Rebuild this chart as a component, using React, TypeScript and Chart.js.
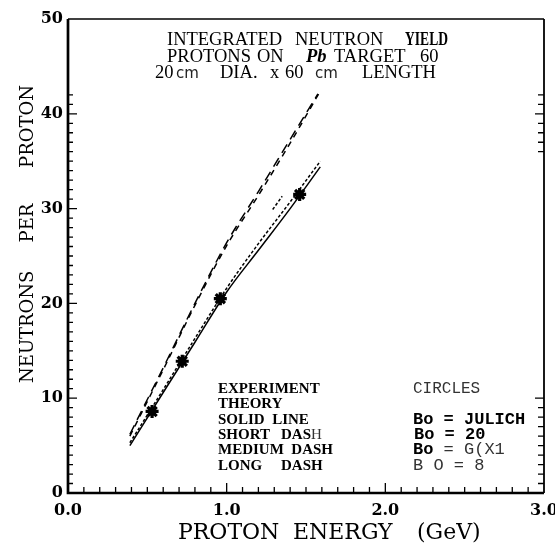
import React, { useEffect, useRef } from 'react';
import { Chart, registerables } from 'chart.js';
Chart.register(...registerables);

// ---- data ----
const theoryEnergy = [0.39, 0.6, 0.8, 1.0, 1.2, 1.4, 1.59];
const solidLine = [5.0, 10.6, 15.9, 21.2, 25.6, 30.0, 34.4];
const shortDash = [5.3, 10.9, 16.3, 21.6, 26.3, 30.7, 35.0];
const mediumDashEnergy = [0.39, 0.6, 0.8, 1.0, 1.2, 1.4, 1.59];
const mediumDash = [6.0, 13.0, 19.8, 26.1, 31.4, 36.9, 42.4];
const longDashEnergy = [0.39, 0.6, 0.8, 1.0, 1.2, 1.4, 1.575];
const longDash = [6.2, 13.2, 20.0, 26.4, 31.8, 37.3, 42.1];
const shortDashFragEnergy = [1.29, 1.35];
const shortDashFrag = [29.9, 31.3];
const expEnergy = [0.53, 0.72, 0.96, 1.46];
const expYield = [8.6, 13.9, 20.5, 31.5];
const xTickLabels = ['0.0', '1.0', '2.0', '3.0'];
const yTickLabels = ['0', '10', '20', '30', '40', '50'];

const pts = (xs: number[], ys: number[]) => xs.map((x, i) => ({ x, y: ys[i] }));

const SERIF = '"DejaVu Serif"';
const TIMES = '"Liberation Serif"';
const MONO = '"Liberation Mono"';

const decorPlugin = {
  id: 'decor',
  afterDatasetsDraw(chart: any) {
    const { ctx, chartArea: a, scales } = chart;
    const xs = scales.x;
    const ys = scales.y;
    ctx.save();
    ctx.strokeStyle = '#000';
    ctx.fillStyle = '#000';
    ctx.lineCap = 'butt';

    // frame
    ctx.lineWidth = 1.5;
    ctx.beginPath();
    ctx.moveTo(a.left, a.top);
    ctx.lineTo(a.right, a.top);
    ctx.stroke();
    ctx.lineWidth = 1.8;
    ctx.beginPath();
    ctx.moveTo(a.right, a.top);
    ctx.lineTo(a.right, a.bottom);
    ctx.stroke();
    ctx.lineWidth = 2.7;
    ctx.beginPath();
    ctx.moveTo(a.left, a.top);
    ctx.lineTo(a.left, a.bottom + 1.3);
    ctx.moveTo(a.left - 1.3, a.bottom);
    ctx.lineTo(a.right, a.bottom);
    ctx.stroke();

    // inward ticks
    ctx.lineWidth = 1.3;
    ctx.beginPath();
    for (let v = 1; v <= 42; v++) {
      const p = ys.getPixelForValue(v);
      const len = v % 10 === 0 ? 9 : 5;
      ctx.moveTo(a.left, p);
      ctx.lineTo(a.left + len, p);
    }
    for (let v = 1; v <= 10; v++) {
      const p = ys.getPixelForValue(v);
      ctx.moveTo(a.right, p);
      ctx.lineTo(a.right - (v === 10 ? 9 : 6), p);
    }
    for (let v = 36; v <= 42; v++) {
      const p = ys.getPixelForValue(v);
      ctx.moveTo(a.right, p);
      ctx.lineTo(a.right - (v === 40 ? 9 : 6), p);
    }
    for (let i = 1; i < 30; i++) {
      const p = xs.getPixelForValue(i / 10);
      const len = i % 10 === 0 ? 10 : 6;
      ctx.moveTo(p, a.bottom);
      ctx.lineTo(p, a.bottom - len);
    }
    ctx.stroke();

    ctx.textAlign = 'left';
    ctx.textBaseline = 'alphabetic';
    const put = (t: string, x: number, y: number, font: string, color = '#000', fitW = 0) => {
      ctx.font = font;
      ctx.fillStyle = color;
      const w = ctx.measureText(t).width;
      if (fitW > 0) {
        ctx.save();
        ctx.translate(x, y);
        ctx.scale(fitW / w, 1);
        ctx.fillText(t, 0, 0);
        ctx.restore();
        return x + fitW;
      }
      ctx.fillText(t, x, y);
      return x + w;
    };

    // title block
    const tf = `18.5px ${TIMES}`;
    const tfb = `bold 18.5px ${TIMES}`;
    put('INTEGRATED', 167, 45, tf);
    put('NEUTRON', 295, 45, tf);
    put('YIELD', 405, 45, tfb, '#000', 43);
    put('PROTONS', 167, 62, tf);
    put('ON', 257, 62, tf);
    put('Pb', 306, 62, `italic bold 18.5px ${TIMES}`);
    put('TARGET', 334, 62, tf);
    put('60', 420, 62, tf);
    const cmf = `15px "DejaVu Sans"`;
    put('20', 155, 78, tf);
    put('cm', 176, 78, cmf, '#222');
    put('DIA.', 220, 78, tf);
    put('x', 270, 78, tf);
    put('60', 285, 78, tf);
    put('cm', 315, 78, cmf, '#222');
    put('LENGTH', 362, 78, tf);

    // legend block
    const lf = `bold 15px ${TIMES}`;
    put('EXPERIMENT', 218, 393, lf);
    put('THEORY', 218, 408, lf);
    put('SOLID  LINE', 218, 424, lf);
    put('SHORT', 218, 439, lf);
    const e = put('DAS', 281, 439, lf);
    put('H', e, 439, `15px ${TIMES}`, '#333');
    put('MEDIUM  DASH', 218, 454, lf);
    put('LONG', 218, 470, lf);
    put('DASH', 281, 470, lf);

    const mf = `17px ${MONO}`;
    const mfb = `bold 17px ${MONO}`;
    put('CIRCLES', 413, 393, `16px ${MONO}`, '#333');
    put('Bo = JULICH', 413, 424, mfb);
    put('Bo = 20', 414, 439, mfb);
    const b = put('Bo', 413, 454, mfb);
    put(' = G(X1', b, 454, mf, '#333');
    put('B O = 8', 413, 470, mf, '#333');

    // axis titles
    const af = `22px ${SERIF}`;
    put('PROTON', 178, 539, af);
    put('ENERGY', 293, 539, af);
    put('(GeV)', 417, 539, af);

    ctx.save();
    ctx.translate(33, 0);
    ctx.rotate(-Math.PI / 2);
    ctx.font = `18px ${SERIF}`;
    ctx.fillStyle = '#000';
    ctx.textAlign = 'left';
    ctx.fillText('NEUTRONS', -383, 0);
    ctx.textAlign = 'center';
    ctx.fillText('PER', -223, 0);
    ctx.textAlign = 'right';
    ctx.fillText('PROTON', -85, 0);
    ctx.restore();

    ctx.restore();
  },
};

export default function App() {
  const ref = useRef<HTMLCanvasElement | null>(null);
  useEffect(() => {
    if (!ref.current) return;
    const line = (data: any, dash: number[]) => ({
      data,
      borderColor: '#000',
      borderWidth: 1.5,
      borderDash: dash,
      pointRadius: 0,
      fill: false,
      cubicInterpolationMode: 'monotone' as const,
    });
    const chart = new Chart(ref.current, {
      type: 'line',
      data: {
        datasets: [
          { label: 'Solid line', ...line(pts(theoryEnergy, solidLine), []) },
          { label: 'Short dash', ...line(pts(theoryEnergy, shortDash), [3, 2]) },
          { label: 'Short dash b', ...line(pts(shortDashFragEnergy, shortDashFrag), [3, 2]) },
          { label: 'Medium dash', ...line(pts(mediumDashEnergy, mediumDash), [6, 5]) },
          { label: 'Long dash', ...line(pts(longDashEnergy, longDash), [10, 6]) },
          {
            label: 'Experiment',
            data: pts(expEnergy, expYield),
            showLine: false,
            pointStyle: 'star',
            pointRadius: 6.5,
            pointBorderWidth: 3.2,
            pointBorderColor: '#000',
            pointBackgroundColor: '#000',
          },
          {
            label: 'Experiment core',
            data: pts(expEnergy, expYield),
            showLine: false,
            pointStyle: 'circle',
            pointRadius: 4.2,
            pointBorderWidth: 0,
            pointBackgroundColor: '#000',
          },
        ],
      },
      options: {
        responsive: false,
        animation: false,
        devicePixelRatio: 1,
        layout: { padding: { top: 19, right: 11, left: 0, bottom: 0 } },
        plugins: { legend: { display: false }, tooltip: { enabled: false }, title: { display: false } },
        events: [],
        scales: {
          x: {
            type: 'linear',
            min: 0,
            max: 3,
            grid: { display: false, drawTicks: false },
            border: { display: false },
            ticks: {
              stepSize: 1,
              autoSkip: false,
              maxRotation: 0,
              padding: 8,
              color: '#000',
              font: { family: 'DejaVu Serif', weight: 'bold', size: 16 },
              callback: (v: any) => xTickLabels[Math.round(Number(v))] ?? '',
            },
            afterFit: (s: any) => {
              s.height = 50;
              s.paddingLeft = 0;
              s.paddingRight = 0;
            },
          },
          y: {
            type: 'linear',
            min: 0,
            max: 50,
            grid: { display: false, drawTicks: false },
            border: { display: false },
            ticks: {
              stepSize: 10,
              padding: 5,
              color: '#000',
              font: { family: 'DejaVu Serif', weight: 'bold', size: 16 },
              callback: (v: any) => yTickLabels[Math.round(Number(v) / 10)] ?? '',
            },
            afterFit: (s: any) => {
              s.width = 68;
              s.paddingTop = 0;
              s.paddingBottom = 0;
            },
          },
        },
      },
      plugins: [decorPlugin],
    });
    return () => chart.destroy();
  }, []);
  return (
    <div style={{ position: 'fixed', left: 0, top: 0, width: 555, height: 543, background: '#fff' }}>
      <canvas ref={ref} width={555} height={543} />
    </div>
  );
}
